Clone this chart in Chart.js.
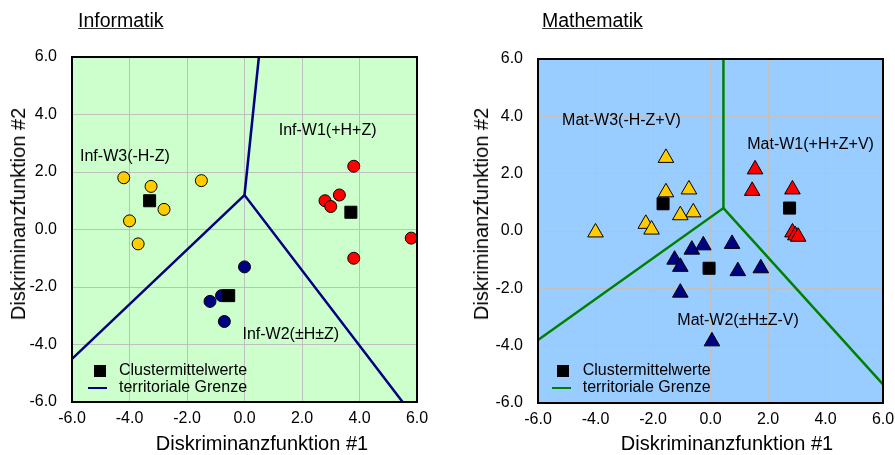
<!DOCTYPE html>
<html>
<head>
<meta charset="utf-8">
<script src="https://cdn.jsdelivr.net/npm/chart.js@4.4.1/dist/chart.umd.min.js"></script>
<style>
body { margin: 0; background: #fff; font-family: "Liberation Sans", Arial, sans-serif; }
#wrap { position: relative; width: 895px; height: 455px; overflow: hidden; }
canvas { position: absolute; top: 0; }
.t { position: absolute; white-space: nowrap; color: #000; }
.title { font-size: 19.5px; line-height: 20px; top: 10px; text-decoration: underline; text-decoration-color: #333; }
.xt { font-size: 20px; line-height: 20px; top: 433px; transform: translateX(-50%); }
.yt { font-size: 20px; line-height: 20px; top: 214px; transform: translate(-50%, -50%) rotate(-90deg); }
.lg { font-size: 16px; line-height: 16px; }
.sq { position: absolute; width: 12px; height: 12px; background: #000; }
.ln { position: absolute; height: 2.5px; }
</style>
</head>
<body>
<div id="wrap">
  <canvas id="inf" width="450" height="455" style="left:0"></canvas>
  <canvas id="mat" width="470" height="455" style="left:450px"></canvas>

  <div class="t title" style="left:78px">Informatik</div>
  <div class="t title" style="left:542px">Mathematik</div>

  <div class="t xt" style="left:262px">Diskriminanzfunktion #1</div>
  <div class="t xt" style="left:727px">Diskriminanzfunktion #1</div>
  <div class="t yt" style="left:17.5px">Diskriminanzfunktion #2</div>
  <div class="t yt" style="left:480.5px">Diskriminanzfunktion #2</div>

  <!-- legenden -->
  <div class="sq" style="left:94px;top:364.7px"></div>
  <div class="t lg" style="left:119px;top:361.5px">Clustermittelwerte</div>
  <div class="ln" style="left:88px;top:386.5px;width:19px;background:#000080"></div>
  <div class="t lg" style="left:119px;top:378.8px">territoriale Grenze</div>

  <div class="sq" style="left:557px;top:364.7px"></div>
  <div class="t lg" style="left:582.7px;top:361.5px">Clustermittelwerte</div>
  <div class="ln" style="left:551.7px;top:386.5px;width:19px;background:#008000"></div>
  <div class="t lg" style="left:582.7px;top:378.8px">territoriale Grenze</div>
</div>

<script>
// Informatik
const infW1 = [[3.8, 2.2], [3.3, 1.2], [2.8, 1.0], [3.0, 0.8], [3.8, -1.0], [5.8, -0.3]];
const infW2 = [[0.0, -1.3], [-1.2, -2.5], [-0.8, -2.3], [-0.7, -3.2]];
const infW3 = [[-4.2, 1.8], [-3.25, 1.5], [-1.5, 1.7], [-2.8, 0.7], [-4.0, 0.3], [-3.7, -0.5]];
const infMeans = [[-3.3, 1.0], [3.7, 0.6], [-0.55, -2.3]];
const infBorderLow = [[-6, -4.5], [0.0, 1.2], [5.5, -6]];
const infBorderTop = [[0.0, 1.2], [0.5, 6]];
const infLabels = ['Inf-W1(+H+Z)', 'Inf-W2(±H±Z)', 'Inf-W3(-H-Z)'];
const infLabelPos = [[2.89, 3.45], [1.61, -3.66], [-4.16, 2.53]];

// Mathematik
const matW1 = [[1.55, 2.15], [1.45, 1.4], [2.85, 1.45], [2.85, -0.05], [2.95, -0.15], [3.05, -0.2]];
const matW2 = [[-1.25, -1.0], [-1.05, -1.25], [-0.65, -0.65], [-0.25, -0.5], [0.75, -0.45],
               [0.95, -1.4], [1.75, -1.3], [-1.05, -2.15], [0.05, -3.85]];
const matW3 = [[-1.55, 2.55], [-1.55, 1.35], [-0.75, 1.45], [-0.6, 0.65], [-1.05, 0.55],
               [-2.25, 0.25], [-2.05, 0.05], [-4.0, -0.05]];
const matMeans = [[-1.65, 0.95], [2.75, 0.8], [-0.05, -1.3]];
const matBorderLow = [[-6, -3.8], [0.45, 0.8], [6, -5.35]];
const matBorderTop = [[0.45, 0.8], [0.45, 6]];
const matLabels = ['Mat-W1(+H+Z+V)', 'Mat-W2(±H±Z-V)', 'Mat-W3(-H-Z+V)'];
const matLabelPos = [[3.48, 3.03], [0.96, -3.12], [-3.10, 3.84]];

const axisTicks = [-6, -4, -2, 0, 2, 4, 6];

const FONT = '"Liberation Sans", Arial, sans-serif';
const pts = arr => arr.map(p => ({ x: p[0], y: p[1] }));

// hintergrund, rahmen und bereichsbeschriftungen
const areaPlugin = {
    id: 'area',
    beforeDraw(chart, args, opts) {
        const { ctx, chartArea: a } = chart;
        ctx.save();
        ctx.fillStyle = opts.color;
        ctx.fillRect(a.left, a.top, a.width, a.height);
        ctx.restore();
    },
    afterDatasetsDraw(chart, args, opts) {
        const { ctx } = chart;
        const sx = chart.scales.x, sy = chart.scales.y;
        ctx.save();
        ctx.font = '16px ' + FONT;
        ctx.fillStyle = '#000';
        ctx.textAlign = 'center';
        ctx.textBaseline = 'middle';
        opts.labels.forEach((txt, i) => {
            const p = opts.pos[i];
            ctx.fillText(txt, sx.getPixelForValue(p[0]), sy.getPixelForValue(p[1]));
        });
        ctx.restore();
    },
    afterDraw(chart) {
        const { ctx, chartArea: a } = chart;
        ctx.save();
        ctx.strokeStyle = '#000';
        ctx.lineWidth = 2;
        ctx.strokeRect(a.left, a.top, a.width, a.height);
        ctx.restore();
    }
};

function scaleOpts(padding, fit) {
    return {
        type: 'linear',
        min: axisTicks[0],
        max: axisTicks[axisTicks.length - 1],
        afterBuildTicks: s => { s.ticks = axisTicks.map(v => ({ value: v })); },
        afterFit: fit,
        ticks: {
            callback: v => v.toFixed(1),
            color: '#000',
            font: { family: FONT, size: 16 },
            padding: padding
        },
        grid: { color: '#C0C0C0', lineWidth: 1, drawTicks: false },
        border: { display: false }
    };
}

function makeChart(id, cfg) {
    const marker = (data, style, color, r) => ({
        data: pts(data), pointStyle: style, pointRadius: r, pointHoverRadius: r,
        backgroundColor: color, borderColor: '#000', borderWidth: 1, showLine: false
    });
    const border = data => ({
        data: pts(data), showLine: true, pointRadius: 0, borderColor: cfg.lineColor,
        borderWidth: 2.5, fill: false
    });
    new Chart(document.getElementById(id), {
        type: 'scatter',
        data: {
            datasets: [
                marker(cfg.means, 'rect', '#000', 8.5),
                marker(cfg.w1, cfg.style, '#FF0000', cfg.r),
                marker(cfg.w2, cfg.style, '#000080', cfg.r),
                marker(cfg.w3, cfg.style, '#FFCC00', cfg.r),
                border(cfg.low),
                border(cfg.top)
            ]
        },
        options: {
            responsive: false,
            animation: false,
            layout: { padding: cfg.padding },
            plugins: {
                legend: { display: false },
                tooltip: { enabled: false },
                area: { color: cfg.bg, labels: cfg.labels, pos: cfg.labelPos }
            },
            scales: {
                x: scaleOpts(7, s => { s.height = cfg.xHeight; }),
                y: scaleOpts(15, s => { s.width = cfg.yWidth; })
            }
        },
        plugins: [areaPlugin]
    });
}

makeChart('inf', {
    w1: infW1, w2: infW2, w3: infW3, means: infMeans,
    low: infBorderLow, top: infBorderTop,
    labels: infLabels, labelPos: infLabelPos,
    style: 'circle', r: 6, bg: '#CCFFCC', lineColor: '#000080',
    padding: { top: 57, right: 33, left: 0, bottom: 0 }, xHeight: 53, yWidth: 72
});

makeChart('mat', {
    w1: matW1, w2: matW2, w3: matW3, means: matMeans,
    low: matBorderLow, top: matBorderTop,
    labels: matLabels, labelPos: matLabelPos,
    style: 'triangle', r: 9, bg: '#99CCFF', lineColor: '#008000',
    padding: { top: 59, right: 37, left: 0, bottom: 0 }, xHeight: 52, yWidth: 88
});
</script>
</body>
</html>
